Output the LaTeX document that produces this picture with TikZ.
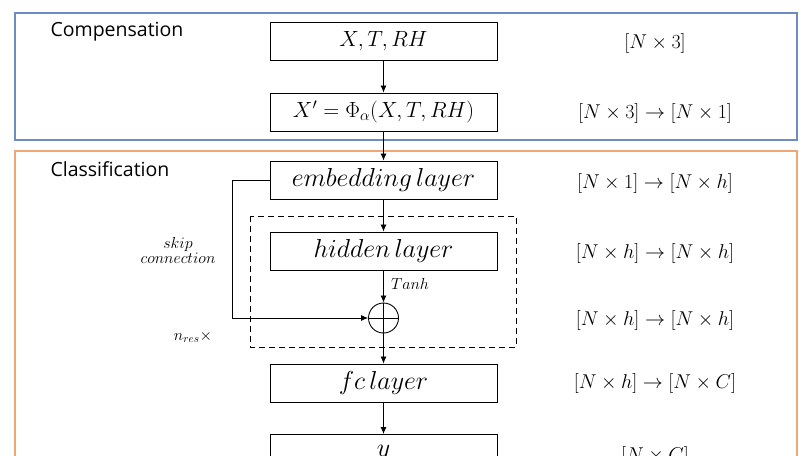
\RequirePackage{fix-cm}
\documentclass[tikz,border=0pt]{standalone}
\usepackage{amsmath}
\usepackage{fontspec}
\setsansfont{Open Sans}
\usetikzlibrary{arrows.meta}
\definecolor{bluefr}{RGB}{110,140,195}
\definecolor{orangefr}{RGB}{238,168,118}
\begin{document}
\begin{tikzpicture}[x=1pt,y=-1pt,
  blk/.style={draw,line width=0.9pt,minimum width=227pt,minimum height=38pt,inner sep=0pt,font=\fontsize{22}{26}\selectfont},
  wblk/.style={blk,font=\fontsize{26}{30}\selectfont},
  dims/.style={font=\fontsize{20}{24}\selectfont},
  lbl/.style={font=\sffamily\fontsize{19.5}{22}\selectfont,anchor=west},
  arr/.style={line width=0.8pt,-{Latex[length=7pt,width=6pt]}},
  small/.style={font=\fontsize{16}{18}\selectfont}]
\useasboundingbox (0,0) rectangle (808,455);
\clip (0,0) rectangle (808,455);
\fill[white] (0,0) rectangle (808,455);
% frames
\draw[bluefr,line width=1.1pt] (15,13) rectangle (797,140);
\draw[orangefr,line width=1.3pt] (15,151) rectangle (797,470);
\node[lbl] (comp) at (47,32) {Compensation};
\node[lbl] (clas) at (47,169) {Classification};
% dashed box
\draw[line width=0.8pt,dash pattern=on 6pt off 4pt] (250,216) rectangle (516,347);
% blocks
\node[blk] (in) at (383.5,41) {$X,T,RH$};
\node[blk] (comp2) at (383.5,112) {$X'=\Phi_{\alpha}(X,T,RH)$};
\node[wblk] (emb) at (383.5,180) {$embedding\,layer$};
\node[wblk] (hid) at (383.5,251) {$hidden\,layer$};
\node[draw,circle,line width=0.9pt,minimum size=30pt,inner sep=0pt] (sum) at (383.5,318) {};
\draw[line width=0.9pt] (sum.north) -- (sum.south) (sum.west) -- (sum.east);
\node[wblk] (fc) at (383.5,383) {$fc\,layer$};
\node[wblk,anchor=north] (out) at (383.5,434) {$y$};
% dims
\node[dims] (d1) at (655,43) {$[N\times 3]$};
\node[dims] (d2) at (655,113) {$[N\times 3]\rightarrow[N\times 1]$};
\node[dims] (d3) at (655,183) {$[N\times 1]\rightarrow[N\times h]$};
\node[dims] (d4) at (655,253) {$[N\times h]\rightarrow[N\times h]$};
\node[dims] (d5) at (655,320) {$[N\times h]\rightarrow[N\times h]$};
\node[dims] (d6) at (655,383) {$[N\times h]\rightarrow[N\times C]$};
\node[dims] (d7) at (655,456) {$[N\times C]$};
% side labels
\node[small,align=center] (skip) at (178,250) {$skip$\\[-3pt]$connection$};
\node[small] (nres) at (193,337) {$n_{res}\times$};
\node[small] (tanh) at (410,284) {$Tanh$};
% connectors
\draw[arr] (in) -- (comp2);
\draw[arr] (comp2) -- (emb);
\draw[arr] (emb) -- (hid);
\draw[arr] (hid) -- (sum);
\draw[arr] (sum) -- (fc);
\draw[arr] (fc) -- (out);
\draw[arr] (emb.west) -- ++(-37,0) |- (sum.west);
\end{tikzpicture}
\end{document}
